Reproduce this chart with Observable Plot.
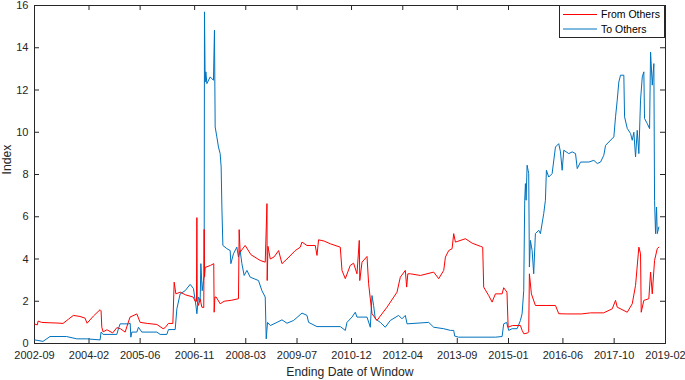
<!DOCTYPE html>
<html>
<head>
<meta charset="utf-8">
<script src="https://cdn.jsdelivr.net/npm/d3@7"></script>
<script src="https://cdn.jsdelivr.net/npm/@observablehq/plot@0.6"></script>
<style>
  html, body { margin: 0; padding: 0; background: #fff; }
</style>
</head>
<body>
<div id="chart"></div>
<script>
// ---- data ----
const seriesNames = ["From Others", "To Others"];
const seriesColors = ["#ff0000", "#0072bd"];
const xTickLabels = ["2002-09", "2004-02", "2005-06", "2006-11", "2008-03", "2009-07", "2010-12", "2012-04", "2013-09", "2015-01", "2016-06", "2017-10", "2019-02"];
const yTicks = [0, 2, 4, 6, 8, 10, 12, 14, 16];
const xTitle = "Ending Date of Window";
const yTitle = "Index";

// "From Others" (red): decimal year, index value
const fromYears = [2002.672, 2002.74, 2002.758, 2002.85, 2003.07, 2003.25, 2003.409, 2003.55, 2003.677, 2003.85, 2003.982, 2004.034, 2004.2, 2004.372, 2004.398, 2004.417, 2004.45, 2004.55, 2004.7, 2004.807, 2004.9, 2005.023, 2005.15, 2005.328, 2005.414, 2005.6, 2005.85, 2006.013, 2006.065, 2006.15, 2006.266, 2006.3, 2006.344, 2006.456, 2006.6, 2006.794, 2006.846, 2006.88, 2006.891, 2006.9, 2006.93, 2006.977, 2007.021, 2007.07, 2007.081, 2007.09, 2007.107, 2007.25, 2007.33, 2007.341, 2007.36, 2007.393, 2007.497, 2007.6, 2007.8, 2007.974, 2007.992, 2008.018, 2008.148, 2008.3, 2008.539, 2008.669, 2008.714, 2008.72, 2008.74, 2008.8, 2008.9, 2009.016, 2009.104, 2009.234, 2009.45, 2009.581, 2009.625, 2009.755, 2009.971, 2010.016, 2010.057, 2010.2, 2010.362, 2010.622, 2010.667, 2010.753, 2010.883, 2010.969, 2011.057, 2011.117, 2011.13, 2011.188, 2011.318, 2011.36, 2011.448, 2011.578, 2011.664, 2011.839, 2012.099, 2012.185, 2012.315, 2012.35, 2012.38, 2012.445, 2012.706, 2013.052, 2013.182, 2013.313, 2013.357, 2013.443, 2013.531, 2013.573, 2013.617, 2013.878, 2014.052, 2014.268, 2014.328, 2014.354, 2014.484, 2014.573, 2014.659, 2014.833, 2014.875, 2014.96, 2014.99, 2015.1, 2015.31, 2015.354, 2015.4, 2015.5, 2015.526, 2015.544, 2015.596, 2015.7, 2016.0, 2016.222, 2016.307, 2016.5, 2016.9, 2017.133, 2017.472, 2017.698, 2017.784, 2017.828, 2018.089, 2018.219, 2018.305, 2018.391, 2018.435, 2018.453, 2018.521, 2018.651, 2018.696, 2018.74, 2018.8, 2018.87, 2018.912];
const fromValues = [0.92, 0.88, 1.06, 1.0, 0.98, 0.97, 0.95, 1.15, 1.33, 1.28, 1.2, 0.96, 1.3, 1.6, 1.55, 0.77, 0.55, 0.65, 0.5, 0.75, 0.7, 0.54, 1.25, 1.4, 1.0, 0.95, 0.9, 0.7, 0.75, 0.95, 0.95, 2.9, 2.35, 2.43, 2.3, 2.2, 2.0, 2.0, 5.96, 2.0, 1.8, 2.1, 1.72, 1.7, 5.4, 3.15, 3.6, 3.7, 3.78, 1.48, 2.2, 2.2, 1.88, 2.0, 2.05, 2.12, 5.39, 4.33, 4.64, 4.2, 3.93, 3.85, 6.62, 2.98, 4.6, 4.0, 4.1, 4.4, 3.78, 4.0, 4.4, 4.56, 4.8, 4.64, 4.64, 4.17, 4.91, 4.85, 4.72, 4.56, 3.46, 3.07, 3.7, 3.8, 3.3, 4.88, 2.98, 3.85, 4.12, 2.83, 1.41, 1.09, 1.3, 1.72, 2.43, 3.14, 3.46, 2.67, 3.3, 3.3, 3.22, 3.38, 3.07, 3.46, 4.09, 4.4, 4.49, 5.2, 4.8, 4.96, 4.75, 4.6, 4.56, 2.67, 2.27, 1.96, 2.35, 2.35, 2.64, 2.43, 0.77, 0.85, 0.85, 0.62, 0.46, 0.5, 0.55, 3.3, 2.35, 1.8, 1.8, 1.8, 1.41, 1.4, 1.4, 1.45, 1.45, 1.64, 2.04, 1.72, 1.48, 1.88, 2.75, 4.56, 4.25, 1.48, 2.04, 2.12, 3.38, 2.35, 3.93, 4.49, 4.56];

// "To Others" (blue): decimal year, index value
const toYears = [2002.672, 2002.888, 2003.07, 2003.5, 2003.766, 2004.026, 2004.372, 2004.398, 2004.451, 2004.807, 2004.849, 2004.893, 2005.109, 2005.154, 2005.172, 2005.198, 2005.328, 2005.37, 2005.458, 2005.849, 2005.935, 2006.109, 2006.151, 2006.326, 2006.37, 2006.456, 2006.586, 2006.716, 2006.802, 2006.872, 2006.891, 2006.932, 2006.977, 2006.995, 2007.029, 2007.063, 2007.081, 2007.089, 2007.107, 2007.125, 2007.151, 2007.237, 2007.323, 2007.349, 2007.367, 2007.411, 2007.453, 2007.497, 2007.523, 2007.542, 2007.568, 2007.672, 2007.758, 2007.776, 2007.844, 2007.932, 2007.974, 2008.018, 2008.063, 2008.122, 2008.193, 2008.279, 2008.495, 2008.583, 2008.669, 2008.695, 2008.729, 2008.8, 2008.974, 2009.104, 2009.234, 2009.406, 2009.625, 2009.755, 2009.797, 2010.016, 2010.622, 2010.753, 2010.797, 2010.927, 2011.013, 2011.057, 2011.318, 2011.404, 2011.448, 2011.49, 2011.534, 2011.664, 2011.794, 2011.925, 2012.141, 2012.229, 2012.315, 2012.36, 2012.922, 2013.052, 2013.313, 2013.487, 2013.573, 2013.599, 2013.7, 2014.659, 2014.833, 2014.875, 2014.95, 2015.005, 2015.094, 2015.224, 2015.31, 2015.354, 2015.396, 2015.422, 2015.44, 2015.458, 2015.484, 2015.526, 2015.544, 2015.57, 2015.615, 2015.656, 2015.7, 2015.786, 2015.831, 2015.917, 2015.961, 2015.987, 2016.047, 2016.135, 2016.222, 2016.307, 2016.352, 2016.396, 2016.438, 2016.568, 2016.656, 2016.743, 2016.787, 2016.873, 2017.089, 2017.219, 2017.308, 2017.394, 2017.479, 2017.524, 2017.74, 2017.784, 2017.828, 2017.87, 2017.914, 2018.0, 2018.019, 2018.089, 2018.175, 2018.219, 2018.261, 2018.305, 2018.349, 2018.391, 2018.435, 2018.48, 2018.521, 2018.539, 2018.61, 2018.67, 2018.696, 2018.74, 2018.782, 2018.8, 2018.826, 2018.852, 2018.87, 2018.912];
const toValues = [0.17, 0.1, 0.33, 0.33, 0.22, 0.22, 0.17, 0.54, 0.43, 0.43, 0.7, 0.93, 0.93, 0.96, 0.3, 0.54, 0.54, 0.77, 0.54, 0.54, 0.43, 0.43, 0.66, 0.66, 1.64, 2.35, 2.5, 2.8, 2.6, 1.72, 1.41, 2.2, 2.04, 3.78, 2.5, 2.98, 3.2, 15.7, 12.38, 12.86, 12.3, 12.62, 12.46, 14.83, 10.25, 9.78, 9.3, 8.99, 8.36, 6.46, 4.64, 4.49, 4.4, 3.78, 4.25, 4.56, 4.09, 4.4, 3.78, 3.22, 3.46, 3.14, 2.98, 2.5, 2.2, 0.22, 1.0, 0.85, 1.0, 1.12, 0.96, 1.09, 1.44, 1.33, 1.0, 0.8, 0.8, 0.62, 1.0, 1.25, 1.48, 1.25, 1.25, 0.77, 2.27, 1.8, 1.17, 1.0, 0.77, 1.09, 1.33, 1.17, 1.33, 0.93, 1.0, 0.77, 0.7, 0.62, 0.62, 0.35, 0.3, 0.3, 0.33, 0.93, 1.0, 0.62, 0.7, 0.7, 1.09, 1.41, 2.5, 6.78, 7.57, 6.78, 8.44, 8.04, 3.62, 4.88, 4.4, 3.3, 5.2, 5.36, 5.2, 6.15, 6.78, 8.2, 7.88, 8.04, 9.3, 9.46, 9.07, 8.2, 9.15, 8.99, 9.07, 8.99, 8.28, 8.59, 8.59, 8.67, 8.52, 8.59, 8.91, 9.38, 9.78, 10.73, 11.52, 12.38, 12.7, 12.7, 10.73, 10.18, 9.94, 9.62, 10.0, 8.83, 10.09, 8.99, 11.52, 12.62, 12.86, 10.65, 10.41, 10.17, 13.8, 12.23, 13.25, 6.78, 5.2, 6.46, 5.2, 5.51];

// ---- helpers ----
function yearToDate(v) {
  const y = Math.floor(v);
  const a = Date.UTC(y, 0, 1), b = Date.UTC(y + 1, 0, 1);
  return new Date(a + (v - y) * (b - a));
}
const parseMonth = d3.utcParse("%Y-%m");
const xTickDates = xTickLabels.map(parseMonth);
const fromData = fromYears.map((t, i) => ({date: yearToDate(t), value: fromValues[i]}));
const toData = toYears.map((t, i) => ({date: yearToDate(t), value: toValues[i]}));

const font = "'Liberation Sans', Arial, Helvetica, sans-serif";
const axisColor = "#262626";
const W = 685, H = 380, mL = 34, mR = 20, mT = 5, mB = 37;
const frameW = W - mL - mR, frameH = H - mT - mB, tickLen = 5;

const chart = Plot.plot({
  width: W,
  height: H,
  marginLeft: mL,
  marginRight: mR,
  marginTop: mT,
  marginBottom: mB,
  style: {fontFamily: font, fontSize: "11px", color: axisColor, background: "#fff"},
  x: {type: "utc", domain: [xTickDates[0], xTickDates[xTickDates.length - 1]]},
  y: {domain: [yTicks[0], yTicks[yTicks.length - 1]]},
  marks: [
    Plot.frame({stroke: axisColor, strokeWidth: 1}),
    Plot.axisX({ticks: xTickDates, tickFormat: d3.utcFormat("%Y-%m"), tickSize: 0, tickPadding: 8, label: null}),
    Plot.axisY({ticks: yTicks, tickSize: 0, tickPadding: 6, label: null}),
    // inward ticks on all four sides
    Plot.tickX(xTickDates, {x: d => d, stroke: axisColor, insetTop: frameH - tickLen}),
    Plot.tickX(xTickDates, {x: d => d, stroke: axisColor, insetBottom: frameH - tickLen}),
    Plot.tickY(yTicks, {y: d => d, stroke: axisColor, insetRight: frameW - tickLen}),
    Plot.tickY(yTicks, {y: d => d, stroke: axisColor, insetLeft: frameW - tickLen}),
    Plot.line(toData, {x: "date", y: "value", stroke: seriesColors[1], strokeWidth: 1}),
    Plot.line(fromData, {x: "date", y: "value", stroke: seriesColors[0], strokeWidth: 1}),
    Plot.text([xTitle], {frameAnchor: "bottom", dy: 29, lineAnchor: "middle", fontSize: 12.2, fill: axisColor}),
    Plot.text([yTitle], {frameAnchor: "left", dx: -27, rotate: -90, lineAnchor: "middle", fontSize: 12.2, fill: axisColor})
  ]
});

// legend box (top-right, inside the axes)
const svg = d3.select(chart);
const lg = svg.append("g").attr("font-family", font).attr("font-size", 10.5).attr("text-anchor", "start");
lg.append("rect").attr("x", 559.5).attr("y", 5.5).attr("width", 105).attr("height", 32)
  .attr("fill", "#fff").attr("stroke", axisColor).attr("stroke-width", 1);
seriesNames.forEach((name, i) => {
  const cy = 14.5 + i * 14.5;
  lg.append("line").attr("x1", 563).attr("x2", 597).attr("y1", cy).attr("y2", cy)
    .attr("stroke", seriesColors[i]).attr("stroke-width", 1);
  lg.append("text").attr("x", 601).attr("y", cy).attr("dy", "0.35em").attr("fill", "#000").text(name);
});

document.getElementById("chart").appendChild(chart);
</script>
</body>
</html>
